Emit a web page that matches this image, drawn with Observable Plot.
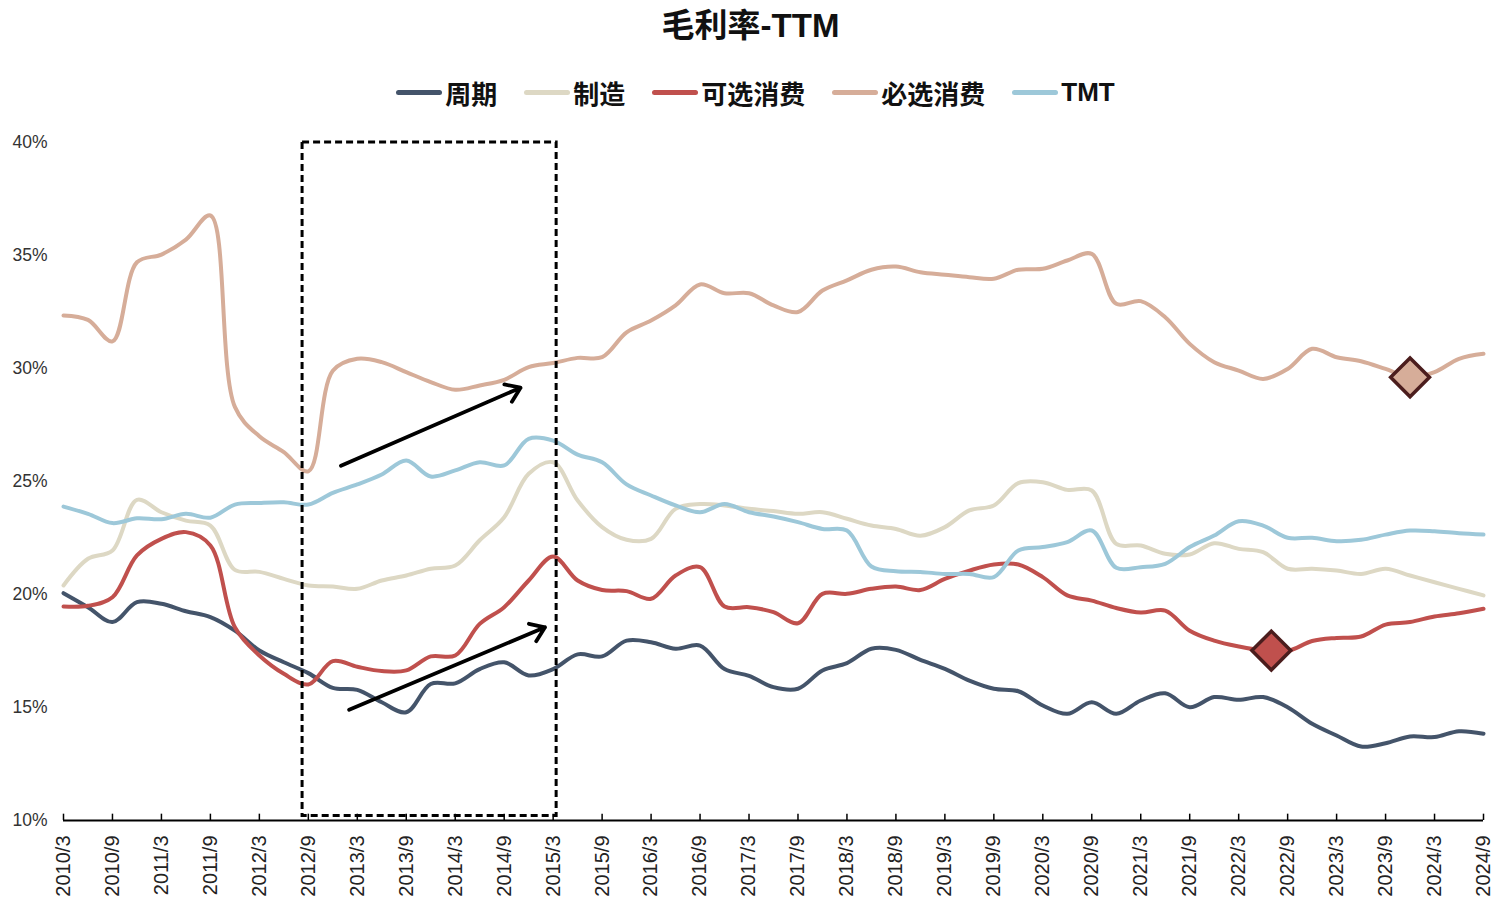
<!DOCTYPE html>
<html>
<head>
<meta charset="utf-8">
<script src="https://cdn.jsdelivr.net/npm/d3@7"></script>
<script src="https://cdn.jsdelivr.net/npm/@observablehq/plot@0.6"></script>
<style>
  body { margin: 0; background: #fff; font-family: "Liberation Sans", "Noto Sans CJK SC", sans-serif; }
  #wrap { width: 1491px; }
  #title { height: 52px; line-height: 52px; text-align: center; font-size: 33px; font-weight: bold; color: #111; padding-left: 10px; box-sizing: border-box; }
  #legend { height: 68px; padding-top: 26px; padding-left: 20px; box-sizing: border-box; display: flex; justify-content: center; align-items: flex-start; }
  .item { display: flex; align-items: center; height: 28px; margin-right: 27px; font-size: 26px; font-weight: bold; color: #111; }
  .item:last-child { margin-right: 0; }
  .sw { width: 46px; height: 5px; border-radius: 3px; margin-right: 3px; }
</style>
</head>
<body>
<div id="wrap">
  <div id="title">毛利率-TTM</div>
  <div id="legend"></div>
  <div id="chart"></div>
</div>
<script>
// Quarter labels (x categories)
const quarters = [
  "2010/3","2010/6","2010/9","2010/12","2011/3","2011/6","2011/9","2011/12",
  "2012/3","2012/6","2012/9","2012/12","2013/3","2013/6","2013/9","2013/12",
  "2014/3","2014/6","2014/9","2014/12","2015/3","2015/6","2015/9","2015/12",
  "2016/3","2016/6","2016/9","2016/12","2017/3","2017/6","2017/9","2017/12",
  "2018/3","2018/6","2018/9","2018/12","2019/3","2019/6","2019/9","2019/12",
  "2020/3","2020/6","2020/9","2020/12","2021/3","2021/6","2021/9","2021/12",
  "2022/3","2022/6","2022/9","2022/12","2023/3","2023/6","2023/9","2023/12",
  "2024/3","2024/6","2024/9"
];

// Series names and colours
const seriesNames = ["周期", "制造", "可选消费", "必选消费", "TMT"];
const seriesColors = ["#44546A", "#DDD8C4", "#C0504D", "#D6AD99", "#9DC8D9"];

// Gross margin TTM (%)
const cyclical = [20.06,19.44,18.78,19.66,19.59,19.26,19.0,18.4,17.52,17.0,16.52,15.87,15.78,15.23,14.79,16.04,
  16.07,16.7,17.0,16.42,16.7,17.35,17.26,17.96,17.89,17.6,17.74,16.7,16.4,15.9,15.83,16.64,
  16.96,17.6,17.55,17.11,16.71,16.19,15.83,15.72,15.09,14.72,15.23,14.72,15.31,15.63,15.01,15.46,
  15.34,15.46,15.01,14.28,13.76,13.27,13.42,13.72,13.69,13.95,13.84];
const manufacturing = [20.4,21.58,21.95,24.19,23.64,23.27,23.05,21.09,21.0,20.69,20.4,20.35,20.25,20.62,20.84,21.14,
  21.28,22.4,23.42,25.34,25.85,24.16,22.98,22.42,22.46,23.79,24.0,23.94,23.79,23.69,23.57,23.64,
  23.35,23.05,22.9,22.6,22.98,23.72,23.94,24.93,24.97,24.63,24.6,22.24,22.17,21.8,21.77,22.27,
  22.02,21.87,21.14,21.14,21.06,20.91,21.14,20.84,20.54,20.25,19.96];
const discretionary = [19.47,19.5,19.88,21.73,22.46,22.76,22.17,18.55,17.3,16.49,16.02,17.05,16.8,16.61,16.64,17.26,
  17.3,18.7,19.44,20.62,21.68,20.62,20.2,20.15,19.81,20.84,21.21,19.47,19.44,19.22,18.73,20.03,
  20.03,20.25,20.35,20.2,20.69,21.06,21.33,21.33,20.77,19.96,19.73,19.4,19.2,19.29,18.4,17.96,
  17.7,17.52,17.5,17.94,18.08,18.14,18.67,18.78,19.03,19.17,19.37];
const staples = [32.35,32.15,31.2,34.7,35.04,35.7,36.77,28.3,27.0,26.3,25.45,29.9,30.43,30.28,29.84,29.4,
  29.06,29.25,29.5,30.06,30.24,30.47,30.5,31.6,32.12,32.79,33.72,33.33,33.33,32.79,32.5,33.45,
  33.9,34.37,34.51,34.26,34.15,34.04,33.97,34.37,34.41,34.78,35.07,32.86,32.98,32.27,31.09,30.28,
  29.91,29.54,29.98,30.87,30.5,30.32,29.98,29.61,29.84,30.43,30.65];
const tmt = [23.89,23.57,23.16,23.37,23.33,23.57,23.4,23.98,24.05,24.08,23.98,24.5,24.87,25.31,25.93,25.22,
  25.49,25.85,25.71,26.89,26.81,26.19,25.85,24.87,24.38,23.94,23.64,24.0,23.64,23.45,23.2,22.9,
  22.83,21.24,21.03,21.0,20.91,20.91,20.77,21.95,22.1,22.32,22.83,21.18,21.21,21.36,22.1,22.61,
  23.24,23.05,22.51,22.51,22.36,22.42,22.65,22.83,22.8,22.71,22.65];
const seriesValues = [cyclical, manufacturing, discretionary, staples, tmt];

// Axis ticks
const xTickLabels = quarters.filter((q, i) => i % 2 === 0);
const yTicks = [10, 15, 20, 25, 30, 35, 40];

// Highlight markers (series, date, value)
const markerSeries = ["可选消费", "必选消费"];
const markerDates = ["2022/7", "2023/12"];
const markerValues = [17.52, 29.61];

// Annotations (date, value)
const boxFrom = "2012/8/10", boxTo = "2015/3/14", boxLow = 10.2, boxHigh = 40;
const arrowStart = [["2013/1", 25.7], ["2013/2", 14.9]];
const arrowEnd = [["2014/11", 29.15], ["2015/2", 18.55]];

// date label "Y/M[/D]" -> quarter position (0 = 2010/3)
const pos = s => {
  const [y, m, d = 1] = s.split("/").map(Number);
  return (y - 2010) * 4 + (m - 3 + (d - 1) / 30.5) / 3;
};

const data = [];
seriesNames.forEach((name, k) => seriesValues[k].forEach((v, i) => data.push({ s: name, q: pos(quarters[i]), v })));
const markers = markerSeries.map((s, k) => ({ s, q: pos(markerDates[k]), v: markerValues[k] }));
const arrows = arrowStart.map((a, k) => ({ x1: pos(a[0]), y1: a[1], x2: pos(arrowEnd[k][0]), y2: arrowEnd[k][1] }));
const boxes = [{ x1: pos(boxFrom), x2: pos(boxTo), y1: boxLow, y2: boxHigh }];
const xTicks = xTickLabels.map(pos);

// Legend
const legend = document.getElementById("legend");
seriesNames.forEach((n, k) => {
  const it = document.createElement("div");
  it.className = "item";
  it.innerHTML = `<span class="sw" style="background:${seriesColors[k]}"></span><span>${n}</span>`;
  legend.appendChild(it);
});

const chart = Plot.plot({
  width: 1491,
  height: 779,
  marginTop: 22,
  marginBottom: 79,
  marginLeft: 63,
  marginRight: 8,
  style: { fontFamily: "Liberation Sans, Noto Sans CJK SC, sans-serif", background: "#fff", overflow: "visible" },
  x: { type: "linear", domain: [0, quarters.length - 1] },
  y: { domain: [10, 40] },
  color: { domain: seriesNames, range: seriesColors },
  marks: [
    Plot.axisY({ ticks: yTicks, tickFormat: d => d + "%", tickSize: 0, tickPadding: 16, fontSize: 17.5, fill: "#333", label: null }),
    Plot.axisX({ ticks: xTicks, tickFormat: d => quarters[Math.round(d)], tickSize: 0, tickPadding: 15, tickRotate: -90,
      textAnchor: "end", lineAnchor: "middle", fontSize: 20, fill: "#222", label: null }),
    Plot.line(data, { x: "q", y: "v", z: "s", stroke: "s", strokeWidth: 4, curve: "catmull-rom" }),
    Plot.ruleY([10], { stroke: "#000", strokeWidth: 2 }),
    Plot.ruleX(xTicks, { y1: 10, y2: 10.28, stroke: "#000", strokeWidth: 1.5 }),
    Plot.rect(boxes, { x1: "x1", x2: "x2", y1: "y1", y2: "y2", fill: "none", stroke: "#000", strokeWidth: 3, strokeDasharray: "7,4" }),
    Plot.arrow(arrows, { x1: "x1", y1: "y1", x2: "x2", y2: "y2", stroke: "#000", strokeWidth: 3.8, headLength: 6.5, headAngle: 70 }),
    Plot.dot(markers, { x: "q", y: "v", fill: "s", symbol: "diamond2", r: 17.5, stroke: "#4B1D1D", strokeWidth: 3.5 })
  ]
});
document.getElementById("chart").appendChild(chart);
</script>
</body>
</html>
